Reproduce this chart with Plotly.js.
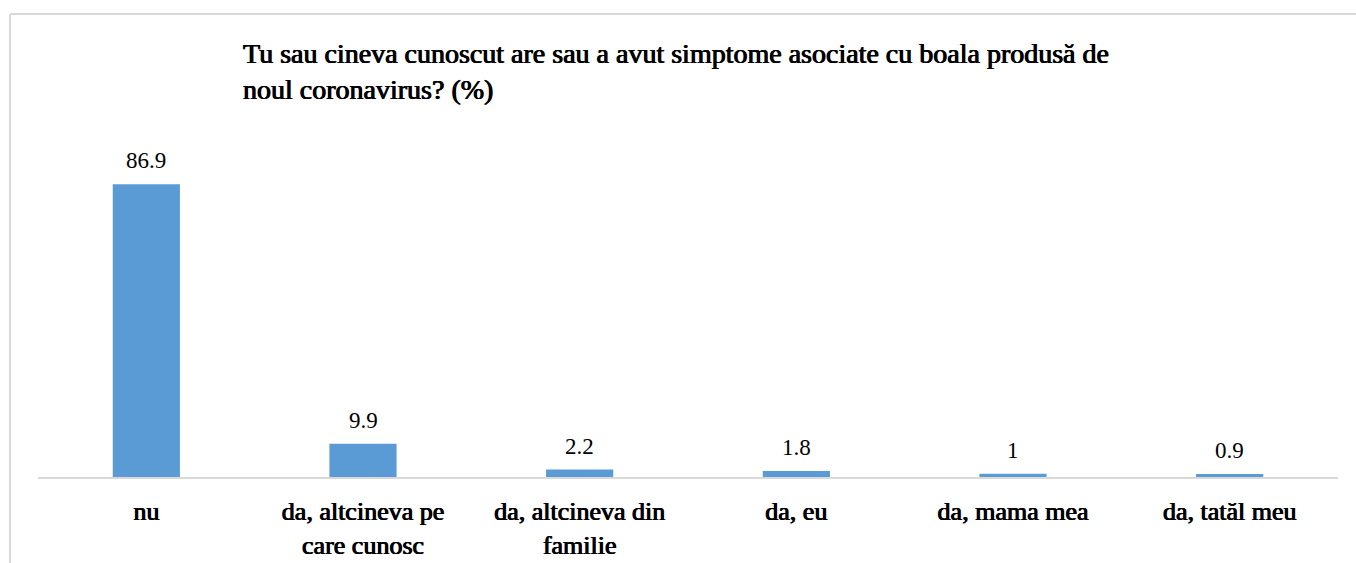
<!DOCTYPE html>
<html>
<head>
<meta charset="utf-8">
<script src="https://cdn.plot.ly/plotly-3.0.1.min.js"></script>
<style>
html,body{margin:0;padding:0;background:#fff;}
</style>
</head>
<body>
<div id="chart"></div>
<script>
const categories = ["nu", "da, altcineva pe<br>care cunosc", "da, altcineva din<br>familie", "da, eu", "da, mama mea", "da, tatăl meu"];
const values = [86.9, 9.9, 2.2, 1.8, 1, 0.9];
const titleText = "Tu sau cineva cunoscut are sau a avut simptome asociate cu boala produsă de<br>noul coronavirus? (%)";

const FAM = "Liberation Serif";
const BOLDISH = "0.55px 0 0 #000, -0.45px 0 0 #000";
const W = 1356, H = 563;
const M = {l: 38, r: 18, t: 140, b: 86};
const pw = W - M.l - M.r, ph = H - M.t - M.b;
const px = v => (v - M.l) / pw;
const py = v => (H - M.b - v) / ph;

const trace = {
  type: "bar",
  x: categories,
  y: values,
  marker: {color: "#5B9BD5"},
  hoverinfo: "skip"
};

const annotations = categories.map((c, i) => ({
  x: c, y: values[i], xref: "x", yref: "y",
  text: String(values[i]),
  showarrow: false,
  yanchor: "bottom",
  yshift: 9,
  font: {family: FAM, size: 23, color: "#000000"}
}));

const layout = {
  width: W, height: H,
  margin: M,
  paper_bgcolor: "#ffffff", plot_bgcolor: "#ffffff",
  font: {family: FAM, color: "#000000"},
  showlegend: false,
  bargap: 0.69,
  title: {
    text: titleText,
    xref: "container", yref: "container",
    x: 243 / W, xanchor: "left",
    y: 1 - 63 / H, yanchor: "top",
    font: {family: FAM, size: 28, color: "#000000", shadow: BOLDISH}
  },
  xaxis: {
    showline: true, linecolor: "#d9d9d9", linewidth: 2,
    ticks: "", showgrid: false, zeroline: false,
    ticklabelstandoff: 10,
    tickfont: {family: FAM, size: 26, color: "#000000", shadow: BOLDISH},
    fixedrange: true
  },
  yaxis: {
    range: [0, 100], visible: false, showgrid: false, zeroline: false, fixedrange: true
  },
  annotations: annotations,
  shapes: [
    {type: "line", xref: "paper", yref: "paper", x0: px(10), x1: px(1360), y0: py(14), y1: py(14), line: {color: "#d9d9d9", width: 2}},
    {type: "line", xref: "paper", yref: "paper", x0: px(10), x1: px(10), y0: py(14), y1: py(570), line: {color: "#d9d9d9", width: 2}}
  ]
};

Plotly.newPlot("chart", [trace], layout, {displayModeBar: false, staticPlot: true});
</script>
</body>
</html>
